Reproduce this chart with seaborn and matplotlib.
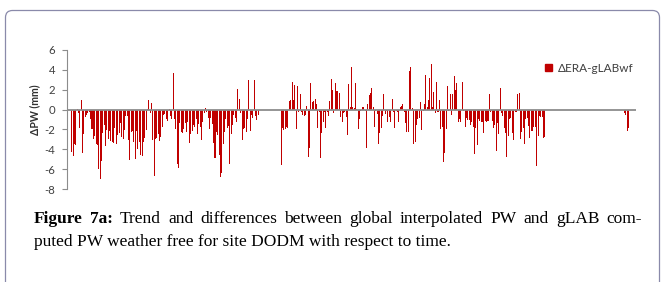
import numpy as np
import pandas as pd
import seaborn as sns
import matplotlib.pyplot as plt
from matplotlib.patches import Patch, FancyBboxPatch
from matplotlib.transforms import IdentityTransform

# ΔPW (mm) 값 - 그림에서 눈으로 읽음, 빈 날은 gap 개수로
lead_gap = 3
seg1 = [-4.3, -4.7, -3.5, -3.6, 0.1, -0.3, -1.9, 0.95, -4.4, -2.5, -0.7, -0.5, -0.3, -0.2,
        -1.0, -2.0, -3.0, -2.7, -3.5, -3.6, -6.0, -7.0, -5.2, -2.4, -1.6, -3.7, -2.1, -3.0,
        -2.2, -3.2, -3.3, -3.4, -1.9, -3.5, -2.6, -2.4, -1.4, -2.8, -3.0, -2.1, -0.6, -0.6,
        -3.1, -5.1, -2.3, -2.2, -3.3, -5.0, -2.2, -4.0, -3.3, -4.6, -4.7, -3.3, -2.9, -2.1]
seg2 = [0.1, 1.0, -0.3, 0.7, -3.1, -6.7, -3.0, -2.9, -2.5, -3.2, -2.8, -1.8, -0.5, -0.4,
        -1.0, -1.2, 0.1, -0.6, -1.0, 3.7, -1.0, -2.0, -5.5, -5.9, -1.4, -2.3, -2.4, -2.0,
        -1.4, -2.3, -1.3, -3.4, -2.5, -2.2, -1.6, -1.8, -1.0, -2.5, -1.5, -1.8, -3.1, -1.3,
        -0.3, 0.2, -0.2, -0.8, -2.0, -0.8, -1.5, -3.4, -4.9, -2.3, -2.6, -4.6, -6.8, -6.4,
        -3.5, -2.3]
seg3 = [-1.0, -1.9, -1.7, -5.5, -2.5, -1.6, -0.5, -0.8, -1.3, 2.1, 1.1, -0.3, -3.1, -2.0,
        -1.9, -2.3, -1.0, 3.0, -2.2, -0.5, -0.8, 3.0, -0.6, -1.1, -0.5]
gap1 = 16
seg4 = [-5.6, -1.9, -2.1, -2.0, -1.8, -1.9, 0.9, 1.0, 2.8, 1.0, 2.5, -2.0, 2.4, -0.2, 1.6,
        -0.2, -0.5, -0.6, -0.5, 0.4]
seg5 = [-4.8, -3.9, 2.7, 0.8, 0.9, 1.1, 0.6, -1.9, -0.2, -4.9, -2.4, -1.3, -0.2, -1.9, -0.2,
        -0.6, 0.9, 3.1, 2.0, -0.3, 2.7, 1.9, 1.9, 1.7, -0.7, -1.3, -0.3, -0.2, -0.7, -2.6,
        2.6, 0.3, 4.3, 0.3, 0.2, 2.7, 0.1, -2.0, -1.0, -0.1, 0.3, 0.3, -0.1, -3.9, 0.6, 1.5,
        1.7, 2.2, 0.3, -1.8, -0.1, -0.4, -3.5, -2.4, -1.9, -0.6, 1.6, -0.4, -0.1]
seg6 = [-1.3, -0.7, -1.3, 1.1, -0.2, -1.9, -0.1, -0.2, -1.3, 0.3, 0.4, 0.6, -0.2, -1.4, -2.3,
        -2.3, 3.9, 4.3, 0.2, -3.5, -3.3, -1.6, -0.9, -0.8, 0.8, -2.1, -0.1, 0.6, 3.5, 0.3,
        1.0, 3.2, 4.6, 0.3, 1.8, -0.3, 2.8, -0.2, 1.0, -2.0, -1.8, -5.3, -4.4, -2.0, 2.4,
        -0.1, 1.6, -0.5, 1.6, 3.4, 2.0, 2.7, -1.3, -1.0, -1.3, 2.8, -0.1, -1.8, -0.8, -1.1]
seg7 = [-1.1, -1.6, -1.3, -1.8, -4.5, -1.9, -3.6, -1.0, -1.2, -1.3, -1.3, -2.4, -1.2, -1.3,
        -1.2, 1.6, -0.2, -1.2, -1.9, -1.6, -4.2, -1.4, -2.5, 2.2, -0.3, -0.6, -1.9, -2.4,
        -4.8, -2.7, -1.0, -0.8, -2.4, -3.1, -0.2, -0.2, 1.6, 1.7, -3.0, -2.3, -1.9, -3.5,
        -1.0, -0.8, -1.7, -2.9, -2.2, -2.2, -1.8, -1.8, -5.7, -2.7, -0.6, -0.7, -0.7, -2.9,
        -2.8]
gap2 = 58
seg_end = [-0.3, -0.5, -2.2, -1.9]
tail_gap = 5

yticks = [6, 4, 2, 0, -2, -4, -6, -8]
ylabel = 'ΔPW (mm)'
legend_label = 'ΔERA-gLABwf'
cap1_bold = ['Figure', '7a:']
cap1_words = ['Trend', 'and', 'differences', 'between', 'global', 'interpolated', 'PW', 'and',
              'gLAB', 'com-']
cap2 = 'puted PW weather free for site DODM with respect to time.'

pw = ([np.nan] * lead_gap + seg1 + seg2 + seg3 + [np.nan] * gap1 + seg4 + seg5 + seg6 + seg7
      + [np.nan] * gap2 + seg_end + [np.nan] * tail_gap)
df = pd.DataFrame({'day': np.arange(1, len(pw) + 1), 'dpw': pw}).dropna()

sns.set_theme(style='white')
plt.rcParams['font.family'] = ['Lato', 'DejaVu Sans']
plt.rcParams['axes.unicode_minus'] = False

W, H = 665, 282
fig = plt.figure(figsize=(W / 100, H / 100), dpi=100)
ax = fig.add_axes([67 / W, 1 - 189 / H, (636 - 67) / W, 139 / H])

sns.barplot(data=df, x='day', y='dpw', native_scale=True, color='#c00000', saturation=1,
            width=0.75, errorbar=None, linewidth=0, ax=ax)
ax.axhline(0, color='#8c8c8c', lw=1.3, zorder=5)

ax.set_xlim(0.5, len(pw) + 0.5)
ax.set_ylim(-8, 6)
ax.set_yticks(yticks)
ax.set_xticks([])
ax.set_xlabel('')
ax.set_ylabel('')
for s in ['top', 'right', 'bottom']:
    ax.spines[s].set_visible(False)
ax.spines['left'].set_color('#8c8c8c')
ax.spines['left'].set_linewidth(0.8)
ax.tick_params(axis='y', direction='out', length=3.5, width=0.8, color='#8c8c8c',
               labelsize=8.2, labelcolor='#404040', pad=5, left=True)
ax.set_facecolor('none')

fig.text(35 / W, 1 - 110 / H, ylabel, rotation=90, ha='center', va='center',
         fontsize=7.6, fontweight='bold', color='#303030')

fig.legend(handles=[Patch(color='#c00000', label=legend_label)], loc='center left',
           bbox_to_anchor=(545 / W, 1 - 68 / H), frameon=False, fontsize=8.5,
           handlelength=0.6, handleheight=0.6, handletextpad=0.5, borderpad=0,
           borderaxespad=0, labelcolor='#404040')

# 바깥 테두리 (둥근 모서리)
box = FancyBboxPatch((5.5, -20), 654, H - 10.5 + 20, boxstyle='round,pad=0,rounding_size=7',
                     fill=False, edgecolor='#8a8aaa', lw=0.9, transform=IdentityTransform())
fig.add_artist(box)

# 캡션 - 첫 줄은 양쪽 정렬
serif = 'Liberation Serif'
r = fig.canvas.get_renderer()
texts = []
for w in cap1_bold + cap1_words:
    t = fig.text(0, 1 - 223 / H, w, family=serif, fontsize=12.5, va='baseline', color='black',
                 fontweight='bold' if w in cap1_bold else 'normal')
    texts.append(t)
widths = [t.get_window_extent(r).width for t in texts]
gap = (642 - 34 - sum(widths)) / (len(texts) - 1)
x = 34
for t, wd in zip(texts, widths):
    t.set_x(x / W)
    x += wd + gap
fig.text(34 / W, 1 - 246.5 / H, cap2, family=serif, fontsize=12.5, va='baseline', color='black')

fig.savefig('out.png', dpi=100, facecolor='white')
